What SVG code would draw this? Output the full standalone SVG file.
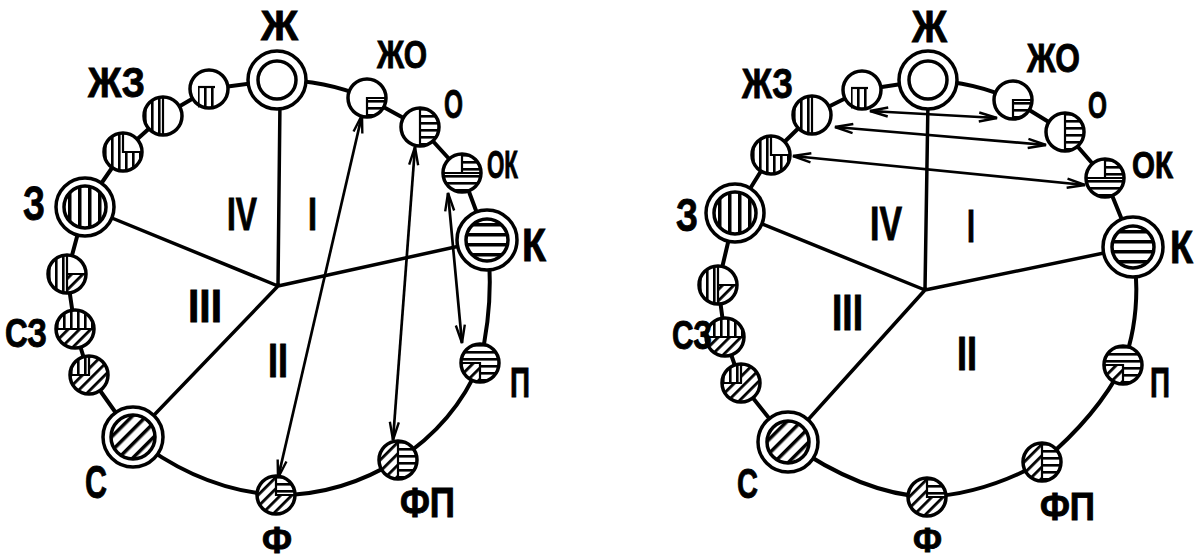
<svg xmlns="http://www.w3.org/2000/svg" width="1199" height="559" viewBox="0 0 1199 559">
<style>
.ln{fill:none;stroke:#000;stroke-width:4;stroke-linecap:round;stroke-linejoin:round}
.rad{fill:none;stroke:#000;stroke-width:3.5;stroke-linecap:round}
.arr{fill:none;stroke:#000;stroke-width:2.7;marker-start:url(#ah);marker-end:url(#ah)}
.c{fill:none;stroke:#000;stroke-width:3.5}
.bg{fill:#fff}
.dv{fill:none;stroke:#000;stroke-width:2.2}
.lbl{font-family:"Liberation Sans Narrow","Liberation Sans","DejaVu Sans Condensed",sans-serif;font-weight:700;fill:#000;stroke:#000;stroke-width:0.9}
</style>
<defs>
<pattern id="pv" width="7" height="7" patternUnits="userSpaceOnUse"><rect x="2" y="0" width="2.6" height="7" fill="#000"/></pattern>
<pattern id="ph" width="7" height="7" patternUnits="userSpaceOnUse"><rect x="0" y="2" width="7" height="2.6" fill="#000"/></pattern>
<pattern id="pd" width="8" height="8" patternUnits="userSpaceOnUse" patternTransform="rotate(45)"><rect x="2" y="0" width="2.8" height="8" fill="#000"/></pattern>
<pattern id="pv2" width="10" height="10" patternUnits="userSpaceOnUse"><rect x="3" y="0" width="3.5" height="10" fill="#000"/></pattern>
<pattern id="ph2" width="10" height="10" patternUnits="userSpaceOnUse"><rect x="0" y="3" width="10" height="3.5" fill="#000"/></pattern>
<pattern id="pd2" width="10" height="10" patternUnits="userSpaceOnUse" patternTransform="rotate(45)"><rect x="3" y="0" width="3.5" height="10" fill="#000"/></pattern>
<marker id="ah" viewBox="0 0 20 12" refX="19" refY="6" markerWidth="20" markerHeight="12" markerUnits="userSpaceOnUse" orient="auto-start-reverse"><path d="M1,1.5 L19,6 L1,10.5" fill="none" stroke="#000" stroke-width="2.4"/><path d="M19,6 L6,6" stroke="#000" stroke-width="2"/></marker>
</defs>
<rect width="1199" height="559" fill="#fff"/>

<g id="connectors">
<path class="ln" d="M277,80 Q325,80 367,98 L420,127 L462,173 L487,240 Q495,300 480,363 Q455,423 398,460 Q340,496 276,495 Q200,490 133,437 L89,375 L75,329 L67,274 L85,207 L123,152 L163,116 L209,89 Z"/>
<path class="rad" d="M280,100 L278,286 M85,207 L278,286 M278,286 L487,240 M278,286 L133,437"/>
<path class="arr" d="M362,115 L278,478"/>
<path class="arr" d="M415,147 L393,440"/>
<path class="arr" d="M448,193 L462,343"/>
<path class="ln" d="M928,80 Q975,82 1013,100 L1065,132 L1105,178 L1133,247 Q1143,312 1123,365 Q1097,416 1042,462 Q985,494 927,497 Q862,494 788,442 L741,383 L725,337 L718,285 L735,213 L771,155 L812,115 L862,90 Z"/>
<path class="rad" d="M928,100 L925,290 M735,213 L925,290 M925,290 L1133,247 M925,290 L788,442"/>
<path class="arr" d="M870,111 L997,118"/>
<path class="arr" d="M835,127 L1046,145"/>
<path class="arr" d="M793,156 L1085,185"/>
</g>

<!-- ===== LEFT DIAGRAM NODES ===== -->
<g id="L-Zh" transform="translate(277,80)"><circle r="29" class="bg"/><circle r="29" class="c"/><circle r="19" class="c"/></g>
<g id="L-n1" transform="translate(209,89)"><circle r="19" class="bg"/><path d="M-11,-2 H6 V18.5 H-11 Z" fill="url(#pv)"/><path class="dv" d="M-11,-2 H6"/><circle r="19" class="c"/></g>
<g id="L-n2" transform="translate(163,116)"><circle r="19" class="bg"/><path d="M0,-19 A19,19 0 0 0 0,19 Z" fill="url(#pv)"/><path class="dv" d="M0,-19 V19"/><circle r="19" class="c"/></g>
<g id="L-n3" transform="translate(123,152)"><circle r="19" class="bg"/><path d="M0,0 L19,0 A19,19 0 1 1 0,-19 Z" fill="url(#pv)"/><path class="dv" d="M0,-19 V0 H19"/><circle r="19" class="c"/></g>
<g id="L-Z" transform="translate(85,207)"><circle r="29" class="bg"/><circle r="21" fill="url(#pv2)"/><circle r="29" class="c"/><circle r="21" class="c"/></g>
<g id="L-n4" transform="translate(67,274)"><circle r="19" class="bg"/><path d="M0,-19 A19,19 0 0 0 0,19 Z" fill="url(#pv)"/><path d="M0,0 L19,0 A19,19 0 0 1 0,19 Z" fill="url(#pd)"/><path class="dv" d="M0,-19 V19 M0,0 H19"/><circle r="19" class="c"/></g>
<g id="L-SZ" transform="translate(75,329)"><circle r="19" class="bg"/><path d="M-19,0 A19,19 0 0 1 19,0 Z" fill="url(#pv)"/><path d="M-19,0 A19,19 0 0 0 19,0 Z" fill="url(#pd)"/><path class="dv" d="M-19,0 H19"/><circle r="19" class="c"/></g>
<g id="L-n5" transform="translate(89,375)"><circle r="19" class="bg"/><path d="M0,0 L-19,0 A19,19 0 0 1 0,-19 Z" fill="url(#pv)"/><path d="M0,0 L0,-19 A19,19 0 1 1 -19,0 Z" fill="url(#pd)"/><path class="dv" d="M-19,0 H0 V-19"/><circle r="19" class="c"/></g>
<g id="L-S" transform="translate(133,437)"><circle r="30" class="bg"/><circle r="22" fill="url(#pd2)"/><circle r="30" class="c"/><circle r="22" class="c"/></g>
<g id="L-F" transform="translate(276,495)"><circle r="19" class="bg"/><path d="M0,0 L19,0 A19,19 0 1 1 0,-19 Z" fill="url(#pd)"/><path d="M0,0 L0,-19 A19,19 0 0 1 19,0 Z" fill="url(#ph)"/><path class="dv" d="M0,-19 V0 H19"/><circle r="19" class="c"/></g>
<g id="L-FP" transform="translate(398,460)"><circle r="19" class="bg"/><path d="M0,-19 A19,19 0 0 0 0,19 Z" fill="url(#pd)"/><path d="M0,-19 A19,19 0 0 1 0,19 Z" fill="url(#ph)"/><path class="dv" d="M0,-19 V19"/><circle r="19" class="c"/></g>
<g id="L-P" transform="translate(480,363)"><circle r="19" class="bg"/><path d="M0,0 L-19,0 A19,19 0 1 1 0,19 Z" fill="url(#ph)"/><path d="M0,0 L0,19 A19,19 0 0 1 -19,0 Z" fill="url(#pd)"/><path class="dv" d="M-19,0 H0 V19"/><circle r="19" class="c"/></g>
<g id="L-K" transform="translate(487,240)"><circle r="30" class="bg"/><circle r="21" fill="url(#ph2)"/><circle r="30" class="c"/><circle r="21" class="c"/></g>
<g id="L-OK" transform="translate(462,173)"><circle r="19" class="bg"/><path d="M-19,0 A19,19 0 0 0 19,0 Z" fill="url(#ph)"/><path d="M0,0 L0,-19 A19,19 0 0 1 19,0 Z" fill="url(#ph)"/><path class="dv" d="M-19,0 H19 M0,-19 V0"/><circle r="19" class="c"/></g>
<g id="L-O" transform="translate(420,127)"><circle r="19" class="bg"/><path d="M0,-19 A19,19 0 0 1 0,19 Z" fill="url(#ph)"/><path class="dv" d="M0,-19 V19"/><circle r="19" class="c"/></g>
<g id="L-ZhO" transform="translate(367,98)"><circle r="19" class="bg"/><path d="M0,0 L19,0 A19,19 0 0 1 0,19 Z" fill="url(#ph)"/><path class="dv" d="M0,19 V0 H19"/><circle r="19" class="c"/></g>

<!-- ===== RIGHT DIAGRAM NODES ===== -->
<g id="R-Zh" transform="translate(928,80)"><circle r="29" class="bg"/><circle r="29" class="c"/><circle r="19" class="c"/></g>
<g id="R-n1" transform="translate(862,90)"><circle r="19" class="bg"/><path d="M-11,-2 H6 V18.5 H-11 Z" fill="url(#pv)"/><path class="dv" d="M-11,-2 H6"/><circle r="19" class="c"/></g>
<g id="R-n2" transform="translate(812,115)"><circle r="19" class="bg"/><path d="M0,-19 A19,19 0 0 0 0,19 Z" fill="url(#pv)"/><path class="dv" d="M0,-19 V19"/><circle r="19" class="c"/></g>
<g id="R-n3" transform="translate(771,155)"><circle r="19" class="bg"/><path d="M0,0 L19,0 A19,19 0 1 1 0,-19 Z" fill="url(#pv)"/><path class="dv" d="M0,-19 V0 H19"/><circle r="19" class="c"/></g>
<g id="R-Z" transform="translate(735,213)"><circle r="29" class="bg"/><circle r="21" fill="url(#pv2)"/><circle r="29" class="c"/><circle r="21" class="c"/></g>
<g id="R-n4" transform="translate(718,285)"><circle r="19" class="bg"/><path d="M0,-19 A19,19 0 0 0 0,19 Z" fill="url(#pv)"/><path d="M0,0 L19,0 A19,19 0 0 1 0,19 Z" fill="url(#pd)"/><path class="dv" d="M0,-19 V19 M0,0 H19"/><circle r="19" class="c"/></g>
<g id="R-SZ" transform="translate(725,337)"><circle r="19" class="bg"/><path d="M-19,0 A19,19 0 0 1 19,0 Z" fill="url(#pv)"/><path d="M-19,0 A19,19 0 0 0 19,0 Z" fill="url(#pd)"/><path class="dv" d="M-19,0 H19"/><circle r="19" class="c"/></g>
<g id="R-n5" transform="translate(741,383)"><circle r="19" class="bg"/><path d="M0,0 L-19,0 A19,19 0 0 1 0,-19 Z" fill="url(#pv)"/><path d="M0,0 L0,-19 A19,19 0 1 1 -19,0 Z" fill="url(#pd)"/><path class="dv" d="M-19,0 H0 V-19"/><circle r="19" class="c"/></g>
<g id="R-S" transform="translate(788,442)"><circle r="30" class="bg"/><circle r="21" fill="url(#pd2)"/><circle r="30" class="c"/><circle r="21" class="c"/></g>
<g id="R-F" transform="translate(927,497)"><circle r="19" class="bg"/><path d="M0,0 L19,0 A19,19 0 1 1 0,-19 Z" fill="url(#pd)"/><path d="M0,0 L0,-19 A19,19 0 0 1 19,0 Z" fill="url(#ph)"/><path class="dv" d="M0,-19 V0 H19"/><circle r="19" class="c"/></g>
<g id="R-FP" transform="translate(1042,462)"><circle r="19" class="bg"/><path d="M0,-19 A19,19 0 0 0 0,19 Z" fill="url(#pd)"/><path d="M0,-19 A19,19 0 0 1 0,19 Z" fill="url(#ph)"/><path class="dv" d="M0,-19 V19"/><circle r="19" class="c"/></g>
<g id="R-P" transform="translate(1123,365)"><circle r="19" class="bg"/><path d="M0,0 L-19,0 A19,19 0 1 1 0,19 Z" fill="url(#ph)"/><path d="M0,0 L0,19 A19,19 0 0 1 -19,0 Z" fill="url(#pd)"/><path class="dv" d="M-19,0 H0 V19"/><circle r="19" class="c"/></g>
<g id="R-K" transform="translate(1133,247)"><circle r="30" class="bg"/><circle r="21" fill="url(#ph2)"/><circle r="30" class="c"/><circle r="21" class="c"/></g>
<g id="R-OK" transform="translate(1105,178)"><circle r="19" class="bg"/><path d="M-19,0 A19,19 0 0 0 19,0 Z" fill="url(#ph)"/><path d="M0,0 L0,-19 A19,19 0 0 1 19,0 Z" fill="url(#ph)"/><path class="dv" d="M-19,0 H19 M0,-19 V0"/><circle r="19" class="c"/></g>
<g id="R-O" transform="translate(1065,132)"><circle r="19" class="bg"/><path d="M0,-19 A19,19 0 0 1 0,19 Z" fill="url(#ph)"/><path class="dv" d="M0,-19 V19"/><circle r="19" class="c"/></g>
<g id="R-ZhO" transform="translate(1013,100)"><circle r="19" class="bg"/><path d="M0,0 L19,0 A19,19 0 0 1 0,19 Z" fill="url(#ph)"/><path class="dv" d="M0,19 V0 H19"/><circle r="19" class="c"/></g>

<!-- ===== LABELS ===== -->
<g id="labels-left">
<text class="lbl" x="261" y="40" font-size="43" textLength="37" lengthAdjust="spacingAndGlyphs">Ж</text>
<text class="lbl" x="88" y="97" font-size="42" textLength="57" lengthAdjust="spacingAndGlyphs">ЖЗ</text>
<text class="lbl" x="377" y="68" font-size="39" textLength="50" lengthAdjust="spacingAndGlyphs">ЖО</text>
<text class="lbl" x="444" y="118" font-size="40" textLength="19" lengthAdjust="spacingAndGlyphs">О</text>
<text class="lbl" x="487" y="178" font-size="38" textLength="31" lengthAdjust="spacingAndGlyphs">ОК</text>
<text class="lbl" x="522" y="261" font-size="46" textLength="24" lengthAdjust="spacingAndGlyphs">К</text>
<text class="lbl" x="23" y="220" font-size="48" textLength="22" lengthAdjust="spacingAndGlyphs">З</text>
<text class="lbl" x="5" y="347" font-size="40" textLength="42" lengthAdjust="spacingAndGlyphs">СЗ</text>
<text class="lbl" x="85" y="498" font-size="46" textLength="22" lengthAdjust="spacingAndGlyphs">С</text>
<text class="lbl" x="262" y="553" font-size="36" textLength="30" lengthAdjust="spacingAndGlyphs">Ф</text>
<text class="lbl" x="400" y="517" font-size="42" textLength="55" lengthAdjust="spacingAndGlyphs">ФП</text>
<text class="lbl" x="510" y="397" font-size="42" textLength="20" lengthAdjust="spacingAndGlyphs">П</text>
<text class="lbl" x="227" y="230" font-size="46" textLength="30" lengthAdjust="spacingAndGlyphs">IV</text>
<text class="lbl" x="308" y="230" font-size="46" textLength="9" lengthAdjust="spacingAndGlyphs">I</text>
<text class="lbl" x="188" y="322" font-size="47" textLength="34" lengthAdjust="spacingAndGlyphs">III</text>
<text class="lbl" x="268" y="377" font-size="48" textLength="20" lengthAdjust="spacingAndGlyphs">II</text>
</g>
<g id="labels-right">
<text class="lbl" x="912" y="42" font-size="45" textLength="35" lengthAdjust="spacingAndGlyphs">Ж</text>
<text class="lbl" x="742" y="98" font-size="42" textLength="51" lengthAdjust="spacingAndGlyphs">ЖЗ</text>
<text class="lbl" x="1027" y="72" font-size="40" textLength="53" lengthAdjust="spacingAndGlyphs">ЖО</text>
<text class="lbl" x="1088" y="118" font-size="36" textLength="19" lengthAdjust="spacingAndGlyphs">О</text>
<text class="lbl" x="1132" y="178" font-size="36" textLength="41" lengthAdjust="spacingAndGlyphs">ОК</text>
<text class="lbl" x="1170" y="263" font-size="46" textLength="23" lengthAdjust="spacingAndGlyphs">К</text>
<text class="lbl" x="676" y="231" font-size="46" textLength="22" lengthAdjust="spacingAndGlyphs">З</text>
<text class="lbl" x="672" y="349" font-size="40" textLength="40" lengthAdjust="spacingAndGlyphs">СЗ</text>
<text class="lbl" x="737" y="498" font-size="43" textLength="21" lengthAdjust="spacingAndGlyphs">С</text>
<text class="lbl" x="913" y="552" font-size="35" textLength="29" lengthAdjust="spacingAndGlyphs">Ф</text>
<text class="lbl" x="1040" y="520" font-size="38" textLength="55" lengthAdjust="spacingAndGlyphs">ФП</text>
<text class="lbl" x="1150" y="397" font-size="42" textLength="20" lengthAdjust="spacingAndGlyphs">П</text>
<text class="lbl" x="870" y="240" font-size="49" textLength="32" lengthAdjust="spacingAndGlyphs">IV</text>
<text class="lbl" x="967" y="242" font-size="47" textLength="8" lengthAdjust="spacingAndGlyphs">I</text>
<text class="lbl" x="832" y="330" font-size="50" textLength="31" lengthAdjust="spacingAndGlyphs">III</text>
<text class="lbl" x="957" y="370" font-size="49" textLength="20" lengthAdjust="spacingAndGlyphs">II</text>
</g>
</svg>
